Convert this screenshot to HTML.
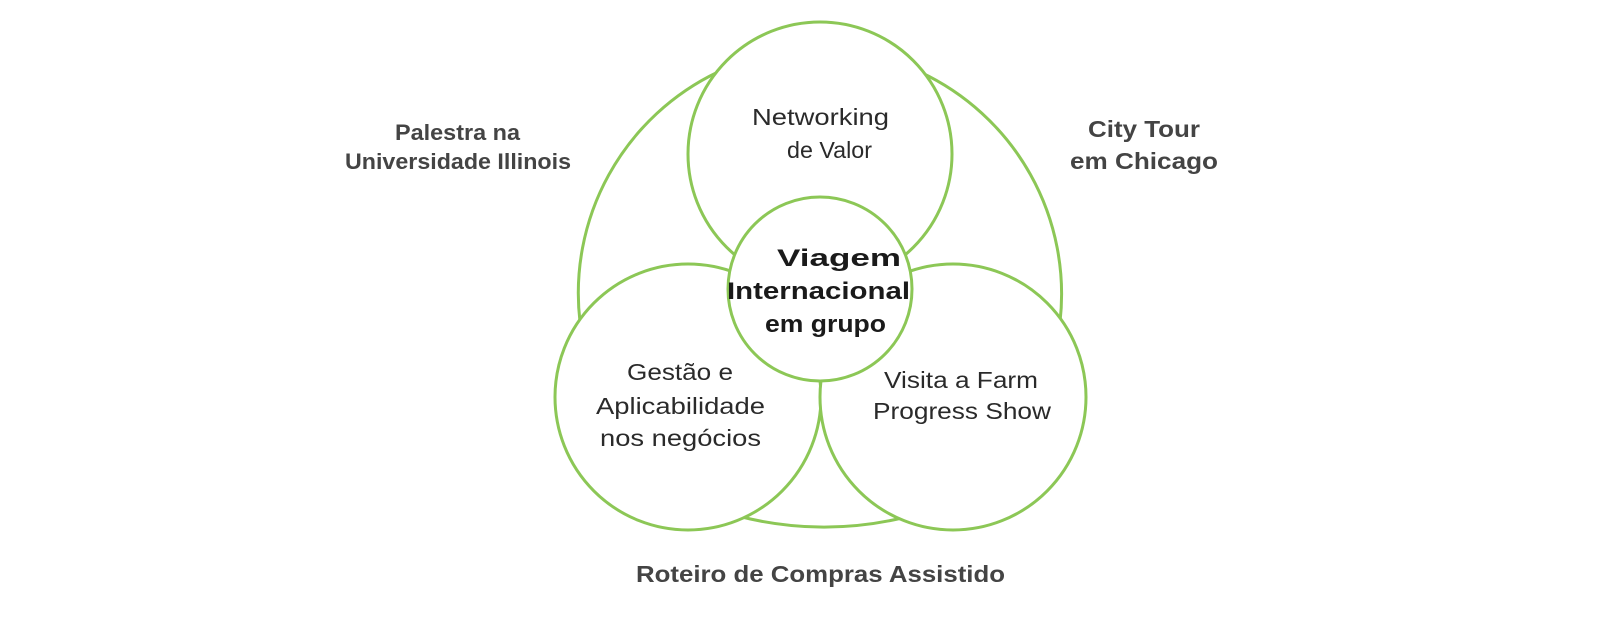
<!DOCTYPE html>
<html><head><meta charset="utf-8"><style>
html,body{margin:0;padding:0;background:#fff;}
svg{display:block}
text{font-family:"Liberation Sans",sans-serif;}
</style></head><body>
<svg width="1600" height="620" viewBox="0 0 1600 620">
<g fill="none" stroke="#8cc756" stroke-width="3">
<path d="M718 72 A245 245 0 0 0 580 322"/>
<path d="M920 72 A245 245 0 0 1 1060 322"/>
<path d="M738 516 A340 340 0 0 0 902 518"/>
</g>
<g fill="#fff" stroke="#8cc756" stroke-width="3">
<circle cx="820" cy="154" r="132"/>
<circle cx="688" cy="397" r="133"/>
<circle cx="953" cy="397" r="133"/>
<circle cx="820" cy="289" r="92"/>
</g>
<g font-weight="bold" fill="#444" font-size="22" lengthAdjust="spacingAndGlyphs">
<text x="395" y="140" textLength="125" lengthAdjust="spacingAndGlyphs">Palestra na</text>
<text x="345" y="169" textLength="226" lengthAdjust="spacingAndGlyphs">Universidade Illinois</text>
<text x="1088" y="137" font-size="23" textLength="112" lengthAdjust="spacingAndGlyphs">City Tour</text>
<text x="1070" y="169" font-size="23" textLength="148" lengthAdjust="spacingAndGlyphs">em Chicago</text>
<text x="636" y="582" font-size="23" textLength="369" lengthAdjust="spacingAndGlyphs">Roteiro de Compras Assistido</text>
</g>
<g fill="#2a2a2a" font-size="23">
<text x="752" y="125" textLength="137" lengthAdjust="spacingAndGlyphs">Networking</text>
<text x="787" y="158" textLength="85" lengthAdjust="spacingAndGlyphs">de Valor</text>
<text x="627" y="380" textLength="106" lengthAdjust="spacingAndGlyphs">Gestão e</text>
<text x="596" y="414" textLength="169" lengthAdjust="spacingAndGlyphs">Aplicabilidade</text>
<text x="600" y="446" textLength="161" lengthAdjust="spacingAndGlyphs">nos negócios</text>
<text x="884" y="388" textLength="154" lengthAdjust="spacingAndGlyphs">Visita a Farm</text>
<text x="873" y="419" textLength="178" lengthAdjust="spacingAndGlyphs">Progress Show</text>
</g>
<g fill="#1a1a1a" font-size="24" font-weight="bold">
<text x="777" y="266" textLength="124" lengthAdjust="spacingAndGlyphs">Viagem</text>
<text x="727" y="299" textLength="183" lengthAdjust="spacingAndGlyphs">Internacional</text>
<text x="765" y="332" textLength="121" lengthAdjust="spacingAndGlyphs">em grupo</text>
</g>
</svg>
</body></html>
